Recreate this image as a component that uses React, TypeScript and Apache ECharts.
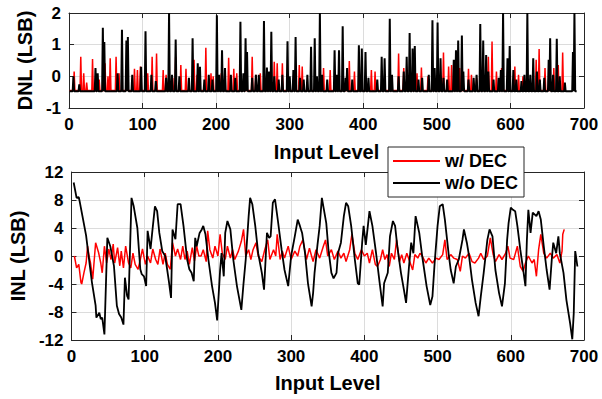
import React, { useEffect, useRef } from "react";
import * as echarts from "echarts";

// ---------- data ----------
const X_MAX = 700;
const DNL_FLOOR_BLACK = -0.47;
const DNL_FLOOR_RED = -0.45;
const DNL_BLACK_END = 690;
const DNL_RED_END = 673;

// DNL peaks [input level, DNL] for w/o DEC (black)
const dnlBlackPeaks: [number, number][] = [
  [6, 0.0], [14, -0.25], [36, 0.26], [39, 0.1], [46, 1.53], [48, 1.08], [66, 0.1], [72, 1.47],
  [78, 1.13], [80, 1.24], [86, 0.05], [98, 0.3], [104, 1.42], [112, 0.05], [118, -0.15],
  [132, -0.05], [136, 2.0], [140, 0.05], [145, 1.16], [150, 0.0], [163, -0.05], [168, 1.2],
  [175, 0.41], [178, 0.3], [184, -0.1], [190, 0.05], [195, -0.1], [201, 1.93], [204, 0.05],
  [208, 0.82], [212, 0.26], [220, 0.05], [226, -0.05], [233, 1.72], [237, 0.1], [240, 1.2],
  [242, 0.77], [249, -0.05], [254, 0.05], [258, 0.05], [265, 1.75], [269, 0.28], [272, 0.15],
  [275, 1.41], [279, 0.0], [285, -0.1], [290, 0.05], [297, 1.11], [300, 0.0], [305, 0.2],
  [308, 1.24], [314, -0.05], [319, -0.1], [324, 0.05], [329, 0.93], [334, 1.2], [337, 0.0],
  [341, 2.0], [344, 0.05], [351, -0.1], [361, 0.82], [364, 0.05], [367, 0.82], [372, 1.58],
  [376, -0.05], [378, 0.26], [385, -0.1], [394, 0.98], [398, 0.88], [403, 0.77], [407, -0.05],
  [419, -0.1], [425, 0.62], [429, 0.57], [436, 1.82], [439, 0.05], [448, 0.0], [455, 0.15],
  [459, 0.62], [463, 1.37], [467, 0.88], [470, 0.96], [475, -0.1], [480, -0.05], [489, 0.05],
  [494, 1.77], [497, 0.26], [501, 1.7], [505, 0.57], [509, -0.05], [514, -0.1], [523, 0.52],
  [526, 0.82], [529, 1.13], [534, 1.29], [536, 0.15], [543, -0.1], [550, -0.05], [554, 0.05],
  [559, 1.65], [563, 1.13], [567, 0.67], [570, 0.15], [577, -0.1], [584, -0.05], [587, 0.2],
  [590, 2.0], [596, 0.57], [599, 0.96], [604, 0.2], [608, -0.1], [615, -0.15], [619, 0.05],
  [623, 2.0], [627, 0.05], [631, 0.57], [636, 0.15], [640, -0.1], [646, -0.05], [652, 0.52],
  [654, 1.2], [658, 0.05], [663, 1.19], [667, 0.0], [674, -0.2], [685, 0.77], [687, 2.0],
];

// DNL peaks [input level, DNL] for w/ DEC (red)
const dnlRedPeaks: [number, number][] = [
  [7, 0.15], [16, 0.62], [20, 0.1], [24, -0.2], [32, 0.55], [41, -0.1], [49, 0.41], [53, 0.0],
  [56, 0.57], [64, 0.62], [68, 0.1], [79, 0.26], [89, 0.24], [93, 0.2], [97, 0.31], [107, 0.1],
  [113, 0.62], [119, 0.72], [128, 0.2], [132, 0.05], [141, -0.05], [145, 0.62], [152, 0.36],
  [159, 0.24], [170, 0.52], [174, 0.05], [186, 0.9], [193, 0.1], [196, 0.0], [207, 0.1],
  [217, 0.59], [224, 0.24], [228, 0.1], [249, 0.62], [254, 0.05], [260, 0.1], [279, 0.46],
  [283, 0.41], [290, 0.41], [313, 0.36], [317, 0.31], [346, 0.26], [355, 0.2], [366, 0.0],
  [381, 0.48], [388, 0.15], [411, 0.2], [416, 0.15], [448, 0.72], [455, 0.26], [473, 0.1],
  [479, 0.28], [488, 0.0], [509, 0.75], [516, 0.31], [520, 0.36], [531, 0.26], [543, 0.24],
  [547, 0.05], [554, -0.05], [570, 0.62], [575, 1.1], [581, 0.15], [588, 0.26], [606, 0.31],
  [611, 0.05], [617, 0.0], [635, 0.52], [639, 0.86], [647, 0.26], [659, 0.26], [665, 0.36],
  [671, 0.75],
];

// INL [input level, INL] w/o DEC (black)
const inlBlack: [number, number][] = [
  [3, 10.5], [7, 8.3], [10, 8.4], [11, 7.9], [15, 5.7], [20, 2.9], [24, -0.5], [28, -3.8],
  [33, -7.1], [34, -8.8], [38, -8.1], [40, -9.0], [42, -8.8], [45, -11.2], [49, 2.6], [53, 1.4],
  [58, -1.4], [62, -7.1], [65, -8.3], [68, -8.8], [71, -9.8], [73, -3.1], [76, -5.7], [78, -6.2],
  [82, 8.3], [85, 7.1], [90, 4.0], [94, -1.9], [96, -2.6], [99, -2.9], [102, -4.3], [104, 3.6],
  [108, 1.0], [110, 3.1], [114, 7.1], [117, 6.4], [120, 3.3], [124, 0.7], [128, 0], [133, -3.6],
  [136, -6.0], [138, 3.8], [142, 2.4], [145, 7.4], [149, 7.4], [153, 4.3], [158, -0.5],
  [161, -1.9], [164, -2.4], [167, -3.6], [169, 2.6], [171, 1.4], [175, 3.3], [178, 3.8],
  [180, 4.3], [183, 3.1], [187, -0.5], [192, -4.3], [196, -6.7], [199, -9.2], [203, -2.0],
  [205, 0.4], [208, -2.9], [210, 3.3], [213, 5.0], [217, 3.8], [221, -0.5], [226, -4.3],
  [232, -7.7], [235, -3.9], [238, -0.5], [242, 5.7], [244, 8.3], [247, 7.4], [251, 4.3],
  [255, 0.4], [260, -2.4], [263, -4.8], [267, 3.3], [270, 2.6], [272, 2.8], [275, 7.6],
  [278, 8.1], [282, 5.0], [287, 0.9], [291, -2.0], [296, -4.3], [300, 0], [305, 2.8], [309, 5.2],
  [312, 4.3], [315, 3.3], [319, 0.4], [323, -3.9], [328, -7.2], [330, -5.3], [332, -2.4],
  [336, 1.6], [339, 4.3], [342, 8.3], [344, 7.1], [348, 4.7], [351, 0.9], [355, -2.4],
  [358, -3.2], [362, -2.4], [364, 0.4], [368, 1.9], [372, 5.7], [375, 7.6], [378, 7.1],
  [382, 4.3], [387, -0.5], [391, -3.9], [393, -4.1], [397, 1.9], [399, 4.3], [402, 1.6],
  [407, 6.4], [411, 4.3], [416, 0.4], [421, -3.9], [425, -7.2], [427, -3.9], [432, -2.4],
  [435, 2.8], [439, 5.0], [442, 4.3], [445, 1.4], [450, -2.4], [454, -4.8], [457, -6.7],
  [461, -1.5], [464, 1.9], [467, 0.4], [470, 5.7], [475, 3.3], [479, 0], [485, -4.3],
  [490, -7.0], [493, -5.8], [496, -1.0], [500, 4.3], [503, 7.1], [507, 7.4], [510, 5.2],
  [515, 0.4], [518, -2.0], [522, -3.9], [525, -1.5], [529, -0.5], [534, 2.3], [536, 3.8],
  [540, 1.9], [543, 0], [547, -3.4], [552, -6.7], [556, -8.6], [559, -5.8], [563, -2.4],
  [568, 2.3], [571, 3.8], [575, 2.8], [579, -2.0], [584, -5.3], [588, -7.2], [592, -3.9],
  [595, 2.3], [597, 4.7], [600, 6.9], [603, 6.6], [606, 6.4], [609, 4.3], [613, 0.9],
  [617, -2.0], [620, -4.3], [622, 2.3], [624, 6.6], [627, 3.3], [630, 6.2], [635, 5.7],
  [638, 6.4], [641, 5.2], [645, 1.4], [649, -2.0], [653, -4.8], [656, -0.5], [658, 1.9],
  [662, 0.4], [665, 2.8], [667, 0.4], [672, -2.4], [676, -6.3], [681, -9.6], [684, -11.9],
  [686, -8.2], [688, 0.7], [689, 0], [691, -1.5],
];

// INL [input level, INL] w/ DEC (red)
const inlRed: [number, number][] = [
  [4, 0], [7, -1.7], [10, -1.2], [13, -3.8], [14, -4.0], [17, -2.4], [20, -1.0], [22, 1.4],
  [24, 0], [26, -1.0], [29, -3.3], [33, 1.9], [37, 0.5], [40, -1.0], [42, -2.4], [45, 1.4],
  [48, -1.0], [51, 1.0], [54, -0.5], [57, 1.7], [59, -1.0], [63, 1.2], [66, -1.4], [68, 0.7],
  [71, -1.7], [74, 1.4], [78, -1.0], [81, -1.7], [84, 0.4], [87, -1.2], [91, -1.9], [94, -0.5],
  [97, 1.0], [101, -1.2], [104, 0], [108, -1.0], [111, 1.0], [115, -0.5], [118, -1.2],
  [121, 1.0], [125, -1.2], [128, 0.4], [131, -1.2], [135, -1.9], [138, 1.9], [142, 0],
  [145, 1.0], [149, -0.5], [152, 1.4], [155, -0.5], [158, 0.7], [161, -1.2], [165, 1.2],
  [168, -0.7], [171, 1.4], [174, 0], [177, 0], [180, 0.9], [184, -0.8], [186, 3.6], [189, 0.9],
  [193, -0.3], [196, 1.4], [200, 0], [203, 3.1], [206, 0.4], [210, -0.5], [213, 1.4],
  [217, -0.3], [220, 0.9], [223, -0.5], [228, 0.7], [232, 2.1], [235, 3.8], [238, 0],
  [242, 0.9], [245, -0.5], [248, 0.9], [252, 1.9], [255, 0], [260, -0.8], [264, 0.9],
  [268, 2.3], [271, -0.5], [276, 0.9], [279, 0], [281, 3.1], [285, -0.5], [288, 0.7],
  [291, -0.3], [296, 1.4], [300, -0.5], [305, 0.7], [309, 0], [312, 1.4], [316, 2.3],
  [321, -0.5], [325, 1.1], [330, -0.8], [334, 0.9], [339, -0.3], [344, 1.4], [347, 2.3],
  [350, 0], [355, 0.9], [359, -0.5], [364, 0.7], [368, -0.3], [372, 0.4], [375, -0.8],
  [380, 0.9], [383, 3.1], [387, 0.4], [391, -0.5], [396, 0.9], [400, 0], [404, 0.4], [407, -1.0],
  [411, 0.9], [415, -1.2], [418, -1.5], [422, -0.5], [425, 0.9], [428, -0.5], [431, 0.2],
  [434, -1.5], [437, 0.4], [441, -0.5], [444, 2.3], [448, -0.8], [451, 0.2], [454, -1.0],
  [458, 0.4], [461, -0.5], [466, -2.0], [469, 0.2], [473, -0.3], [476, 0.4], [479, 0],
  [484, -1.0], [488, -0.3], [493, -1.0], [498, -0.3], [502, -0.5], [507, 0.2], [510, 2.3],
  [513, -0.5], [518, 0.2], [522, -0.3], [527, -0.5], [531, -2.2], [534, 0], [538, -0.3],
  [543, 0.4], [547, -0.8], [551, -1.0], [556, -0.3], [559, 0.4], [563, -0.5], [568, 0],
  [572, 2.6], [576, 0.2], [579, -0.8], [584, 0.2], [588, -0.5], [593, 0.4], [596, 1.4],
  [599, -0.3], [604, -0.5], [609, 1.4], [613, -1.5], [617, -2.2], [620, -1.0], [624, 0],
  [629, -1.0], [632, -0.5], [635, -2.9], [638, 0.9], [641, 3.1], [645, 0.4], [649, -0.3],
  [654, 0.4], [658, -0.3], [663, 0.2], [667, -1.0], [670, 0.7], [671, 3.1], [673, 3.8],
];

const DNL_TICKS = { min: -1, max: 2, interval: 1 };
const INL_TICKS = { min: -12, max: 12, interval: 4 };
const X_TICKS = { min: 0, max: X_MAX, interval: 100 };

// Peaks rise from the DNL floor and fall back to it between codes.
function dnlLine(peaks: [number, number][], floor: number, end: number): [number, number][] {
  const s = [...peaks].sort((a, b) => a[0] - b[0]);
  const out: [number, number][] = [[1, floor]];
  for (let i = 0; i < s.length; i++) {
    const [x, y] = s[i];
    const prev = out[out.length - 1][0];
    if (x - 1 > prev) out.push([x - 1, floor]);
    out.push([x, y]);
    const next = i + 1 < s.length ? s[i + 1][0] : end + 2;
    if (next - x > 2) out.push([x + 1, floor]);
  }
  out.push([end, floor]);
  return out;
}

const FONT = "'Liberation Sans', Arial, sans-serif";
const AX = "#262626";
const GRID = "#dcdcdc";

export default function App() {
  const ref = useRef<HTMLDivElement>(null);
  useEffect(() => {
    document.body.style.margin = "0";
    if (!ref.current) return;
    const chart = echarts.init(ref.current, undefined, { renderer: "svg" });
    const label = { color: "#000", fontFamily: FONT, fontWeight: "bold" as const, fontSize: 17 };
    const nameStyle = { color: "#000", fontFamily: FONT, fontWeight: "bold" as const, fontSize: 20 };
    const axisLine = { show: true, onZero: false, lineStyle: { color: AX, width: 1 } };
    const tick = { show: true, inside: true, length: 5, lineStyle: { color: AX } };
    const mkX = (gi: number, nameGap: number) => [
      {
        type: "value", gridIndex: gi, ...X_TICKS, position: "bottom",
        name: "Input Level", nameLocation: "middle", nameGap, nameTextStyle: nameStyle,
        axisLine, axisTick: tick, axisLabel: { ...label, margin: 8 },
        splitLine: { show: true, lineStyle: { color: GRID, width: 1 } },
      },
      {
        type: "value", gridIndex: gi, ...X_TICKS, position: "top",
        axisLine, axisTick: tick, axisLabel: { show: false }, splitLine: { show: false },
      },
    ];
    const mkY = (gi: number, ticks: any, name: string, nameGap: number) => [
      {
        type: "value", gridIndex: gi, ...ticks, position: "left",
        name, nameLocation: "middle", nameGap, nameTextStyle: nameStyle,
        axisLine, axisTick: tick, axisLabel: { ...label, margin: 8 },
        splitLine: { show: true, lineStyle: { color: GRID, width: 1 } },
      },
      {
        type: "value", gridIndex: gi, ...ticks, position: "right",
        axisLine, axisTick: tick, axisLabel: { show: false }, splitLine: { show: false },
      },
    ];
    chart.setOption({
      animation: false,
      backgroundColor: "#fff",
      grid: [
        { left: 69, top: 13, width: 515, height: 95 },
        { left: 69, top: 172, width: 515, height: 168 },
      ],
      xAxis: [...mkX(0, 34), ...mkX(1, 33)],
      yAxis: [...mkY(0, DNL_TICKS, "DNL (LSB)", 33), ...mkY(1, INL_TICKS, "INL (LSB)", 42)],
      legend: {
        data: ["w/ DEC", "w/o DEC"],
        orient: "vertical",
        left: 388,
        top: 147,
        backgroundColor: "#fff",
        borderColor: AX,
        borderWidth: 1,
        borderRadius: 0,
        padding: [5, 6, 5, 5],
        itemGap: 4,
        itemWidth: 47,
        itemHeight: 2,
        icon: "rect",
        textStyle: { ...label, fontSize: 18, lineHeight: 17 },
        selectedMode: false,
      },
      series: [
        {
          name: "w/ DEC", type: "line", xAxisIndex: 0, yAxisIndex: 0, symbol: "none",
          data: dnlLine(dnlRedPeaks, DNL_FLOOR_RED, DNL_RED_END),
          lineStyle: { color: "#ff0000", width: 1.5 }, itemStyle: { color: "#ff0000" },
        },
        {
          name: "w/o DEC", type: "line", xAxisIndex: 0, yAxisIndex: 0, symbol: "none",
          data: dnlLine(dnlBlackPeaks, DNL_FLOOR_BLACK, DNL_BLACK_END),
          lineStyle: { color: "#000", width: 2 }, itemStyle: { color: "#000" },
        },
        {
          name: "w/ DEC", type: "line", xAxisIndex: 2, yAxisIndex: 2, symbol: "none",
          data: inlRed, lineStyle: { color: "#ff0000", width: 1.5 }, itemStyle: { color: "#ff0000" },
        },
        {
          name: "w/o DEC", type: "line", xAxisIndex: 2, yAxisIndex: 2, symbol: "none",
          data: inlBlack, lineStyle: { color: "#000", width: 1.8 }, itemStyle: { color: "#000" },
        },
      ],
    });
    return () => chart.dispose();
  }, []);
  return <div ref={ref} style={{ width: 602, height: 399 }} />;
}
